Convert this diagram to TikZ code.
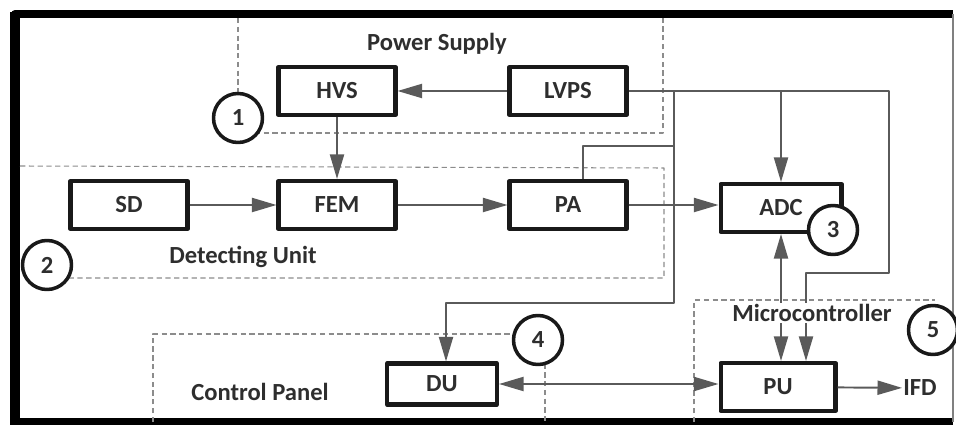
\documentclass[tikz,border=0pt]{standalone}
\usepackage{fontspec}
\setmainfont{Carlito}
\usetikzlibrary{arrows.meta}
\definecolor{wirec}{HTML}{5A5A5A}
\definecolor{zonec}{HTML}{8C8C8C}
\definecolor{inkc}{HTML}{2E2E2E}
\tikzset{
  blk/.style={draw=black!90, line width=2.3pt, fill=white, minimum width=2.34cm, minimum height=0.96cm, text=inkc},
  num/.style={circle, draw=black!90, line width=2pt, fill=white, minimum size=0.98cm, inner sep=0pt, text=inkc},
  wire/.style={draw=wirec, line width=1.1pt},
  zone/.style={draw=zonec, line width=0.6pt, dash pattern=on 3pt off 2pt},
  lbl/.style={text=inkc, inner sep=0.5pt}
}
\begin{document}
\begin{tikzpicture}[x=0.02cm, y=-0.02cm, line join=round, >={Triangle[length=14pt,width=8pt]}, font=\fontsize{14}{16}\selectfont\bfseries]
\useasboundingbox (0,0) rectangle (956,425);
\clip (0,0) rectangle (956,425);
% outer frame
\draw[line width=4.5pt] (953,14)--(15,14)--(15,422)--(953,422);
\draw[line width=5.6pt] (15,12)--(15,425);
\draw[gray, line width=0.8pt] (953,14)--(953,422);
% unit borders
\draw[zone] (238,18)--(238,133)--(663,133)--(663,18);
\draw[zone] (20,166)--(664,168)--(664,278)--(47,278);
\draw[zone] (153,422)--(153,334)--(545,334)--(545,422);
\draw[zone] (694,422)--(694,300)--(935,300);
% blocks
\path (337,91) node[blk] (hvs) {HVS}
      (568,91) node[blk] (lvps) {LVPS}
      (129,205) node[blk] (sd) {SD}
      (337,205) node[blk] (fem) {FEM}
      (568,205) node[blk] (pa) {PA}
      (781,208) node[blk, minimum width=2.42cm] (adc) {ADC}
      (442,384) node[blk, minimum width=2.2cm, minimum height=0.82cm] (du) {DU}
      (778,387) node[blk, minimum width=2.3cm] (pu) {PU}
      (920,388) node[lbl] (ifd) {IFD};
% bends of the supply lines
\path (889,91) coordinate (psr) (889,273) coordinate (psd)
      (674,91) coordinate (spl) (674,303) coordinate (sdu) (674,146) coordinate (spa);
\draw[wire,->] (lvps) -- (hvs);
\draw[wire,->] (hvs) -- (fem);
\draw[wire,->] (sd) -- (fem);
\draw[wire,->] (fem) -- (pa);
\draw[wire,->] (pa.east) -- (pa.east -| adc.west);
\draw[wire,->] (lvps.east) -- (psr) -- (psd) -| ([xshift=0.56cm]pu.north);
\draw[wire,->] (adc.north |- lvps.east) -- (adc.north);
\draw[wire,->] (spl) -- (sdu) -| ([xshift=0.08cm]du.north);
\draw[wire] (spa) -| ([xshift=0.3cm]pa.north);
\draw[wire,<->] (adc.south) -- (adc.south |- pu.north);
\draw[wire,<->] (du.east) -- (du.east -| pu.west);
\draw[wire,->] (pu) -- (ifd);
% unit numbers
\foreach \n/\p in {1/{(238,118)},2/{(47,265)},3/{(833,230)},4/{(538,340)},5/{(933,330)}}
  \node[num] (c\n) at \p {\n};
% unit names
\node[lbl] (ps) at (437,44) {Power Supply};
\node[lbl] (du-name) at (243,257) {Detecting Unit};
\node[lbl] (cp) at (260,392) {Control Panel};
\node[lbl, fill=white] (mc) at (812,313) {Microcontroller};
\end{tikzpicture}
\end{document}
